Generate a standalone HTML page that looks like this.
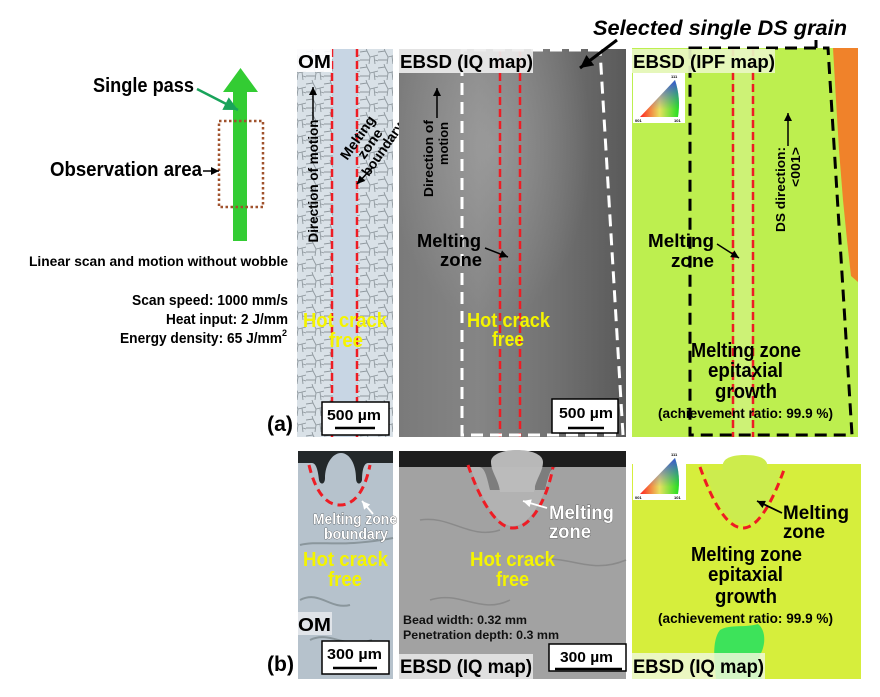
<!DOCTYPE html>
<html><head><meta charset="utf-8"><style>
html,body{margin:0;padding:0;background:#fff;}
svg{display:block;}
text{font-family:"Liberation Sans",Arial,sans-serif;font-weight:bold;}
</style></head><body>
<svg width="880" height="697" viewBox="0 0 880 697" xmlns="http://www.w3.org/2000/svg">
<defs>
 <marker id="ak" viewBox="0 0 10 10" refX="10" refY="5" markerUnits="userSpaceOnUse" markerWidth="9" markerHeight="8" orient="auto"><path d="M0,0 L10,5 L0,10 Z" fill="#000"/></marker>
 <marker id="akb" viewBox="0 0 10 10" refX="10" refY="5" markerUnits="userSpaceOnUse" markerWidth="13" markerHeight="14" orient="auto"><path d="M0,0 L10,5 L0,10 Z" fill="#000"/></marker>
 <marker id="aw" viewBox="0 0 10 10" refX="10" refY="5" markerUnits="userSpaceOnUse" markerWidth="9" markerHeight="8" orient="auto"><path d="M0,0 L10,5 L0,10 Z" fill="#fff"/></marker>
 <marker id="ag" viewBox="0 0 10 10" refX="10" refY="5" markerUnits="userSpaceOnUse" markerWidth="15" markerHeight="14" orient="auto"><path d="M0,0 L10,5 L0,10 Z" fill="#19a35a"/></marker>
 <pattern id="cells" width="18" height="16" patternUnits="userSpaceOnUse">
  <rect width="18" height="16" fill="#d9e1e7"/>
  <path d="M0,4 L7,3 L10,9 L18,7 M7,3 L6,0 M10,9 L9,16 M0,12 L9,12 M14,8 L15,16 M15,12 L18,13" stroke="#8f989e" stroke-width="0.9" fill="none"/>
 </pattern>
 <linearGradient id="iq" x1="0" y1="0" x2="1" y2="0">
  <stop offset="0" stop-color="#7a7a7a"/><stop offset="0.35" stop-color="#858585"/><stop offset="0.7" stop-color="#707070"/><stop offset="1" stop-color="#5a5a5a"/>
 </linearGradient>
 <radialGradient id="iqh" cx="0.4" cy="0.25" r="0.45">
  <stop offset="0" stop-color="#bbb" stop-opacity="0.4"/><stop offset="1" stop-color="#bbb" stop-opacity="0"/>
 </radialGradient>
 <linearGradient id="tri1" x1="0" y1="0" x2="1" y2="0">
  <stop offset="0" stop-color="#ff2020"/><stop offset="0.5" stop-color="#e8e060"/><stop offset="1" stop-color="#20e020"/>
 </linearGradient>
 <linearGradient id="tri2" x1="0" y1="1" x2="0" y2="0">
  <stop offset="0.2" stop-color="#4040ff" stop-opacity="0"/><stop offset="1" stop-color="#3030ff" stop-opacity="1"/>
 </linearGradient>
</defs>

<!-- LEFT DIAGRAM -->
<rect x="233" y="91" width="14" height="150" fill="#33cc33"/>
<polygon points="223,92 258,92 240.5,68" fill="#33cc33"/>
<rect x="219" y="121" width="44" height="86" fill="none" stroke="#a0522d" stroke-width="2.5" stroke-dasharray="2.5,2.5"/>
<line x1="197" y1="89" x2="238" y2="110" stroke="#19a35a" stroke-width="2.5" marker-end="url(#ag)"/>
<text x="93" y="92" font-size="20" textLength="101" lengthAdjust="spacingAndGlyphs">Single pass</text>
<text x="50" y="176" font-size="20" textLength="152" lengthAdjust="spacingAndGlyphs">Observation area</text>
<line x1="203" y1="171" x2="219" y2="171" stroke="#000" stroke-width="1.5" marker-end="url(#ak)"/>
<text x="29" y="266" font-size="14" textLength="259" lengthAdjust="spacingAndGlyphs">Linear scan and motion without wobble</text>
<text x="132" y="305" font-size="15" textLength="156" lengthAdjust="spacingAndGlyphs">Scan speed: 1000 mm/s</text>
<text x="166" y="324" font-size="15" textLength="122" lengthAdjust="spacingAndGlyphs">Heat input: 2 J/mm</text>
<text x="120" y="343" font-size="15" textLength="162" lengthAdjust="spacingAndGlyphs">Energy density: 65 J/mm</text>
<text x="282" y="336" font-size="9">2</text>
<text x="267" y="431" font-size="21" textLength="26" lengthAdjust="spacingAndGlyphs">(a)</text>
<text x="267" y="671" font-size="21" textLength="27" lengthAdjust="spacingAndGlyphs">(b)</text>

<!-- TOP OM -->
<rect x="297" y="49" width="96" height="388" fill="url(#cells)"/>
<rect x="333" y="49" width="24" height="388" fill="#c8d6e4"/>
<line x1="332" y1="49" x2="332" y2="437" stroke="#ee1c24" stroke-width="2.5" stroke-dasharray="8,4"/>
<line x1="357" y1="49" x2="357" y2="437" stroke="#ee1c24" stroke-width="2.5" stroke-dasharray="8,4"/>
<rect x="297" y="49" width="35" height="23" fill="#fff" opacity="0.9"/>
<text x="298" y="68" font-size="18" textLength="33" lengthAdjust="spacingAndGlyphs">OM</text>
<line x1="313" y1="120" x2="313" y2="87" stroke="#000" stroke-width="1.5" marker-end="url(#ak)"/>
<text transform="translate(318,181) rotate(-90)" text-anchor="middle" font-size="14" textLength="123" lengthAdjust="spacingAndGlyphs">Direction of motion</text>
<g transform="translate(357.5,137.5) rotate(-55)">
 <text x="0" y="5" text-anchor="middle" font-size="14" textLength="50" lengthAdjust="spacingAndGlyphs">Melting</text>
 <text x="2" y="18.5" text-anchor="middle" font-size="14" textLength="33" lengthAdjust="spacingAndGlyphs">zone</text>
 <text x="5" y="32" text-anchor="middle" font-size="14" textLength="62" lengthAdjust="spacingAndGlyphs">boundary</text>
</g>
<line x1="372" y1="168" x2="357" y2="184" stroke="#000" stroke-width="1.5" marker-end="url(#ak)"/>
<text x="303" y="327" font-size="20" fill="#f4f400" textLength="84" lengthAdjust="spacingAndGlyphs">Hot crack</text>
<text x="329" y="347" font-size="20" fill="#f4f400" textLength="34" lengthAdjust="spacingAndGlyphs">free</text>
<rect x="322" y="402" width="67" height="33" fill="#fff" stroke="#000" stroke-width="1.5"/>
<text x="327" y="420" font-size="15" textLength="54" lengthAdjust="spacingAndGlyphs">500 µm</text>
<line x1="335" y1="428" x2="375" y2="428" stroke="#000" stroke-width="2.5"/>

<!-- TOP IQ -->
<rect x="399" y="49" width="227" height="388" fill="url(#iq)"/>
<rect x="399" y="49" width="227" height="388" fill="url(#iqh)"/>
<line x1="500" y1="49" x2="500" y2="437" stroke="#ee1c24" stroke-width="2.5" stroke-dasharray="8,4"/>
<line x1="520" y1="49" x2="520" y2="437" stroke="#ee1c24" stroke-width="2.5" stroke-dasharray="8,4"/>
<path d="M600,50 L462,50 L462,435 L623,435 Z" fill="none" stroke="#fff" stroke-width="3" stroke-dasharray="12,7"/>
<rect x="399" y="49" width="134" height="24" fill="#ececec" opacity="0.92"/>
<text x="400" y="68" font-size="18" textLength="133" lengthAdjust="spacingAndGlyphs">EBSD (IQ map)</text>
<line x1="437" y1="118" x2="437" y2="88" stroke="#000" stroke-width="1.5" marker-end="url(#ak)"/>
<text transform="translate(433,158.5) rotate(-90)" text-anchor="middle" font-size="13" textLength="77" lengthAdjust="spacingAndGlyphs">Direction of</text>
<text transform="translate(448,143.5) rotate(-90)" text-anchor="middle" font-size="13" textLength="43" lengthAdjust="spacingAndGlyphs">motion</text>
<text x="417" y="247" font-size="18" textLength="64" lengthAdjust="spacingAndGlyphs">Melting</text>
<text x="440" y="266" font-size="18" textLength="42" lengthAdjust="spacingAndGlyphs">zone</text>
<line x1="485" y1="248" x2="508" y2="257" stroke="#000" stroke-width="1.5" marker-end="url(#ak)"/>
<text x="467" y="327" font-size="20" fill="#f4f400" textLength="83" lengthAdjust="spacingAndGlyphs">Hot crack</text>
<text x="492" y="346" font-size="20" fill="#f4f400" textLength="32" lengthAdjust="spacingAndGlyphs">free</text>
<rect x="552" y="399" width="66" height="34" fill="#fff" stroke="#000" stroke-width="1.5"/>
<text x="559" y="418" font-size="15" textLength="54" lengthAdjust="spacingAndGlyphs">500 µm</text>
<line x1="568" y1="428" x2="604" y2="428" stroke="#000" stroke-width="2.5"/>

<!-- Selected single DS grain -->
<text x="593" y="35" font-size="21" font-style="italic" textLength="254" lengthAdjust="spacingAndGlyphs">Selected single DS grain</text>
<line x1="617" y1="40" x2="580" y2="68" stroke="#000" stroke-width="3" marker-end="url(#akb)"/>
<line x1="816" y1="40" x2="816" y2="73" stroke="#000" stroke-width="3" marker-end="url(#akb)"/>

<!-- TOP IPF -->
<rect x="632" y="48" width="226" height="389" fill="#bdef4f"/>
<rect x="734" y="48" width="18" height="389" fill="#cdf276"/>
<polygon points="833,48 858,48 858,282 851,276 847,240 843,200 839,150 836,100" fill="#f0822a"/>
<line x1="733" y1="48" x2="733" y2="437" stroke="#ee1c24" stroke-width="2.5" stroke-dasharray="8,4"/>
<line x1="753" y1="48" x2="753" y2="437" stroke="#ee1c24" stroke-width="2.5" stroke-dasharray="8,4"/>
<path d="M690,48 L828,48 L852,435 L690,435 Z" fill="none" stroke="#000" stroke-width="3" stroke-dasharray="12,7"/>
<rect x="632" y="49" width="143" height="24" fill="#e9f7c4" opacity="0.92"/>
<text x="633" y="68" font-size="18" textLength="142" lengthAdjust="spacingAndGlyphs">EBSD (IPF map)</text>
<rect x="633" y="73" width="52" height="50" fill="#fff"/>
<path d="M640,117 L678,117 Q681,98 675,80 Z" fill="url(#tri1)"/>
<path d="M640,117 L678,117 Q681,98 675,80 Z" fill="url(#tri2)" opacity="0.8"/>
<text x="635" y="122" font-size="4" font-weight="normal">001</text>
<text x="674" y="122" font-size="4" font-weight="normal">101</text>
<text x="671" y="78" font-size="4" font-weight="normal">111</text>
<line x1="788" y1="146" x2="788" y2="113" stroke="#000" stroke-width="1.5" marker-end="url(#ak)"/>
<text transform="translate(785,189.5) rotate(-90)" text-anchor="middle" font-size="13" textLength="85" lengthAdjust="spacingAndGlyphs">DS direction:</text>
<text transform="translate(800,167) rotate(-90)" text-anchor="middle" font-size="13" textLength="40" lengthAdjust="spacingAndGlyphs">&lt;001&gt;</text>
<text x="648" y="247" font-size="18" textLength="66" lengthAdjust="spacingAndGlyphs">Melting</text>
<text x="671" y="267" font-size="18" textLength="43" lengthAdjust="spacingAndGlyphs">zone</text>
<line x1="717" y1="244" x2="739" y2="258" stroke="#000" stroke-width="1.5" marker-end="url(#ak)"/>
<text x="746" y="357" text-anchor="middle" font-size="20" textLength="110" lengthAdjust="spacingAndGlyphs">Melting zone</text>
<text x="745.5" y="377" text-anchor="middle" font-size="20" textLength="75" lengthAdjust="spacingAndGlyphs">epitaxial</text>
<text x="746" y="398" text-anchor="middle" font-size="20" textLength="62" lengthAdjust="spacingAndGlyphs">growth</text>
<text x="745.5" y="418" text-anchor="middle" font-size="14" textLength="175" lengthAdjust="spacingAndGlyphs">(achievement ratio: 99.9 %)</text>

<!-- BOTTOM OM -->
<rect x="298" y="451" width="95" height="228" fill="#b6c2cc"/>
<path d="M300,600 C320,590 330,610 350,605 M310,640 C330,630 345,650 372,640 M300,545 C320,540 340,548 393,538" stroke="#8a969c" stroke-width="2" fill="none"/>
<path d="M298,451 H393 V463 H368 C364,463 362,470 362,480 C361,485 356,485 356,478 C356,465 350,453 341,453 C332,453 325,465 325,478 C325,485 320,485 319,480 C318,470 316,463 312,463 H298 Z" fill="#23282a"/>
<path d="M309,465 C315,490 325,505 340,505 C355,505 365,490 370,465" fill="none" stroke="#ee1c24" stroke-width="3" stroke-dasharray="8,5"/>
<g fill="#fff" stroke="#333" stroke-width="0.6" paint-order="stroke">
<text x="313" y="524" font-size="15" textLength="84" lengthAdjust="spacingAndGlyphs">Melting zone</text>
<text x="324" y="539" font-size="15" textLength="64" lengthAdjust="spacingAndGlyphs">boundary</text>
</g>
<line x1="373" y1="514" x2="362" y2="501" stroke="#fff" stroke-width="1.8" marker-end="url(#aw)"/>
<text x="303" y="566" font-size="20" fill="#f4f400" textLength="85" lengthAdjust="spacingAndGlyphs">Hot crack</text>
<text x="328" y="586" font-size="20" fill="#f4f400" textLength="34" lengthAdjust="spacingAndGlyphs">free</text>
<rect x="298" y="612" width="34" height="23" fill="#e4e8ec" opacity="0.9"/>
<text x="298" y="631" font-size="18" textLength="33" lengthAdjust="spacingAndGlyphs">OM</text>
<rect x="322" y="641" width="67" height="33" fill="#fff" stroke="#000" stroke-width="1.5"/>
<text x="327" y="659" font-size="15" textLength="55" lengthAdjust="spacingAndGlyphs">300 µm</text>
<line x1="333" y1="668" x2="377" y2="668" stroke="#000" stroke-width="2.5"/>

<!-- BOTTOM IQ -->
<rect x="399" y="451" width="227" height="228" fill="#a2a2a2"/>
<path d="M420,520 C450,515 470,540 500,530 M540,560 C570,555 590,575 626,560 M430,600 C460,590 480,615 510,600" stroke="#8a8a8a" stroke-width="1.5" fill="none"/>
<path d="M399,451 H626 V467 H556 C550,467 548,478 545,490 H535 V467 H500 V490 H490 C487,478 485,467 479,467 H399 Z" fill="#1e1e1e"/>
<path d="M500,492 C499,480 491,472 491,462 C491,446 543,446 543,462 C543,472 535,480 534,492 Z" fill="#b8b8b8"/>
<path d="M470,467 C480,495 495,526 513,526 C531,526 546,495 552,467 Z" fill="#bcbcbc" opacity="0.6"/>
<path d="M468,465 C478,495 495,528 513,528 C533,528 548,495 553,467" fill="none" stroke="#ee1c24" stroke-width="3" stroke-dasharray="8,5"/>
<g fill="#fff" stroke="#333" stroke-width="0.6" paint-order="stroke">
<text x="549" y="519" font-size="19" textLength="65" lengthAdjust="spacingAndGlyphs">Melting</text>
<text x="549" y="538" font-size="19" textLength="42" lengthAdjust="spacingAndGlyphs">zone</text>
</g>
<line x1="547" y1="508" x2="523" y2="501" stroke="#fff" stroke-width="1.8" marker-end="url(#aw)"/>
<text x="470" y="566" font-size="20" fill="#f4f400" textLength="85" lengthAdjust="spacingAndGlyphs">Hot crack</text>
<text x="496" y="586" font-size="20" fill="#f4f400" textLength="33" lengthAdjust="spacingAndGlyphs">free</text>
<text x="403" y="624" font-size="11.5" fill="#111" textLength="124" lengthAdjust="spacingAndGlyphs">Bead width: 0.32 mm</text>
<text x="403" y="639" font-size="11.5" fill="#111" textLength="156" lengthAdjust="spacingAndGlyphs">Penetration depth: 0.3 mm</text>
<rect x="399" y="654" width="134" height="25" fill="#e6e6e6" opacity="0.9"/>
<text x="400" y="673" font-size="19" textLength="132" lengthAdjust="spacingAndGlyphs">EBSD (IQ map)</text>
<rect x="549" y="644" width="77" height="27" fill="#fff" stroke="#000" stroke-width="1.5"/>
<text x="560" y="662" font-size="15" textLength="53" lengthAdjust="spacingAndGlyphs">300 µm</text>
<line x1="555" y1="669" x2="622" y2="669" stroke="#000" stroke-width="2.5"/>

<!-- BOTTOM IPF -->
<rect x="632" y="464" width="229" height="215" fill="#d6ee3c"/>
<path d="M723,470 C721,462 725,455 745,455 C765,455 769,462 767,470 Z" fill="#cdec4c"/>
<path d="M705,470 C712,495 726,524 743,524 C760,524 774,495 781,470 Z" fill="#ccec4e"/>
<path d="M716,679 C714,660 712,640 720,630 C730,624 745,628 758,624 C766,630 766,645 760,655 C757,665 760,672 762,679 Z" fill="#3de35a"/>
<path d="M700,467 C710,495 725,528 743,528 C760,528 775,495 785,467" fill="none" stroke="#ee1c24" stroke-width="3" stroke-dasharray="8,5"/>
<rect x="633" y="453" width="53" height="47" fill="#fff"/>
<path d="M640,494 L678,494 Q681,476 675,458 Z" fill="url(#tri1)"/>
<path d="M640,494 L678,494 Q681,476 675,458 Z" fill="url(#tri2)" opacity="0.8"/>
<text x="635" y="499" font-size="4" font-weight="normal">001</text>
<text x="674" y="499" font-size="4" font-weight="normal">101</text>
<text x="671" y="456" font-size="4" font-weight="normal">111</text>
<text x="783" y="519" font-size="19" textLength="66" lengthAdjust="spacingAndGlyphs">Melting</text>
<text x="783" y="538" font-size="19" textLength="42" lengthAdjust="spacingAndGlyphs">zone</text>
<line x1="782" y1="513" x2="757" y2="501" stroke="#000" stroke-width="1.8" marker-end="url(#ak)"/>
<text x="746.5" y="561" text-anchor="middle" font-size="20" textLength="111" lengthAdjust="spacingAndGlyphs">Melting zone</text>
<text x="745.5" y="581" text-anchor="middle" font-size="20" textLength="75" lengthAdjust="spacingAndGlyphs">epitaxial</text>
<text x="746" y="603" text-anchor="middle" font-size="20" textLength="62" lengthAdjust="spacingAndGlyphs">growth</text>
<text x="745.5" y="623" text-anchor="middle" font-size="14" textLength="175" lengthAdjust="spacingAndGlyphs">(achievement ratio: 99.9 %)</text>
<rect x="632" y="653" width="133" height="26" fill="#eef8d8" opacity="0.85"/>
<text x="633" y="673" font-size="19" textLength="131" lengthAdjust="spacingAndGlyphs">EBSD (IQ map)</text>
</svg>
</body></html>
